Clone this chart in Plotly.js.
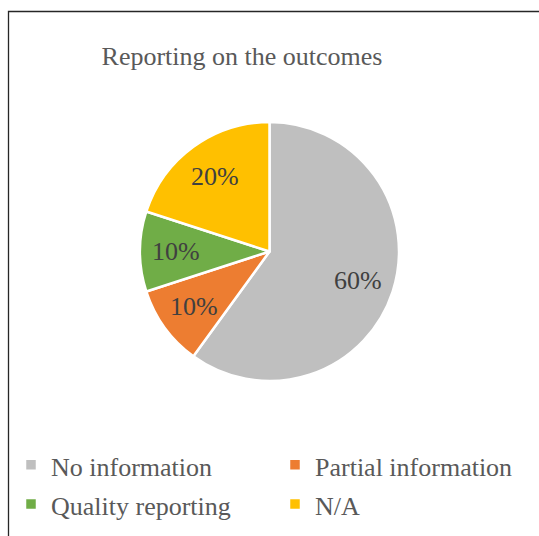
<!DOCTYPE html>
<html>
<head>
<meta charset="utf-8">
<script src="https://cdn.plot.ly/plotly-3.0.1.min.js"></script>
<style>
html,body{margin:0;padding:0;background:#fff;}
#chart{width:539px;height:536px;}
</style>
</head>
<body>
<div id="chart"></div>
<script>
const categories = ["No information", "Partial information", "Quality reporting", "N/A"];
const values = [60, 10, 10, 20];
const colors = ["#BFBFBF", "#ED7D31", "#70AD47", "#FFC000"];
const chartTitle = "Reporting on the outcomes";

const W = 539, H = 536;
const cx = 269.5, cy = 251.5, r = 129.5;
const SERIF = "'Liberation Serif', 'Times New Roman', Times, serif";
const labelRadius = 0.72;

const legendLabels = categories.map(c => '<span style="font-size:26px">' + c + '</span>');

const trace = {
  type: "pie",
  labels: legendLabels,
  values: values,
  sort: false,
  direction: "clockwise",
  rotation: 0,
  marker: {colors: colors, line: {color: "#ffffff", width: 2.5}},
  textinfo: "none",
  hoverinfo: "percent",
  domain: {
    x: [(cx - r) / W, (cx + r) / W],
    y: [(H - (cy + r)) / H, (H - (cy - r)) / H]
  }
};

// data labels placed along each slice's mid-angle (clockwise from 12 o'clock)
const total = values.reduce((a, b) => a + b, 0);
let cum = 0;
const labelAnnotations = values.map(v => {
  const mid = (cum + v / 2) / total * 2 * Math.PI;
  cum += v;
  const sx = cx + labelRadius * r * Math.sin(mid);
  const sy = cy - labelRadius * r * Math.cos(mid);
  return {
    xref: "paper", yref: "paper",
    x: sx / W, y: 1 - sy / H,
    xanchor: "center", yanchor: "middle",
    showarrow: false,
    text: Math.round(v / total * 100) + "%",
    font: {family: SERIF, size: 26, color: "#404040"}
  };
});

const layout = {
  width: W, height: H,
  margin: {l: 0, r: 0, t: 0, b: 0},
  paper_bgcolor: "#ffffff",
  showlegend: true,
  title: {
    text: chartTitle,
    font: {family: SERIF, size: 26, color: "#595959"},
    x: 242 / W, xanchor: "center",
    y: 1 - 56 / H, yanchor: "middle"
  },
  legend: {
    orientation: "h",
    x: 11 / W, xanchor: "left",
    y: 1 - 440 / H, yanchor: "top",
    entrywidth: 219,
    entrywidthmode: "pixels",
    font: {family: SERIF, size: 28, color: "#595959"},
    itemwidth: 30,
    bgcolor: "rgba(0,0,0,0)"
  },
  annotations: labelAnnotations,
  shapes: [{
    type: "rect", xref: "paper", yref: "paper",
    x0: 8.5 / W, x1: 1.05, y0: -0.05, y1: 1 - 11.5 / H,
    line: {color: "#262626", width: 1.3}, fillcolor: "rgba(0,0,0,0)"
  }]
};

Plotly.newPlot("chart", [trace], layout, {displayModeBar: false, staticPlot: true});
</script>
</body>
</html>
